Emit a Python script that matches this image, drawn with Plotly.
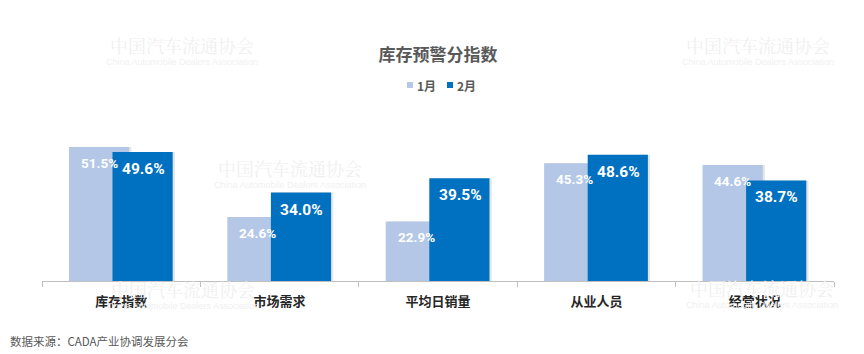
import plotly.graph_objects as go

categories = ["库存指数", "市场需求", "平均日销量", "从业人员", "经营状况"]
jan_values = [51.5, 24.6, 22.9, 45.3, 44.6]
feb_values = [49.6, 34.0, 39.5, 48.6, 38.7]
series_names = ["1月", "2月"]
title_text = "库存预警分指数"
source_text = "数据来源：CADA产业协调发展分会"

W, H = 864, 354
L, R, T, B = 42, 834, 125, 281
C_LIGHT = "#B4C7E7"
C_DARK = "#0070C0"
GREY = "#595959"
NARROW = "Liberation Sans Narrow, Arial Narrow, Roboto, Arial, sans-serif"
CJK = "Noto Sans CJK SC, Microsoft YaHei, sans-serif"


def px_x(p):
    return (p - L) / (R - L)


def px_y(p):
    return (B - p) / (B - T)


BAR_W = 0.38
SH = 0.014  # shadow shift
fig = go.Figure()
# soft shadows
for vals, off in [(jan_values, -0.33), (feb_values, -0.055)]:
    fig.add_trace(go.Bar(x=categories, y=vals, marker=dict(color="rgba(0,0,0,0.10)", line=dict(width=0)),
                         width=BAR_W, offset=off + SH, showlegend=False, hoverinfo="skip"))
fig.add_trace(go.Bar(x=categories, y=jan_values, name=series_names[0],
                     marker=dict(color=C_LIGHT, line=dict(width=0)),
                     width=BAR_W, offset=-0.33, showlegend=False))
fig.add_trace(go.Bar(x=categories, y=feb_values, name=series_names[1],
                     marker=dict(color=C_DARK, line=dict(width=0)),
                     width=BAR_W, offset=-0.055, showlegend=False))

annotations = []
# watermarks (decorative)
wm_cn = "中国汽车流通协会"
wm_en = "China Automobile Dealers Association"
for cx, cy in [(182, 45), (758, 45), (290, 168), (183, 289), (762, 288)]:
    annotations.append(dict(x=px_x(cx), y=px_y(cy), xref="paper", yref="paper",
                            text=wm_cn, showarrow=False, xanchor="center", yanchor="middle",
                            font=dict(family="Noto Serif CJK SC, Noto Sans CJK SC, serif", size=18, color="#F0F0F0")))
    annotations.append(dict(x=px_x(cx), y=px_y(cy + 17), xref="paper", yref="paper",
                            text=wm_en, showarrow=False, xanchor="center", yanchor="middle",
                            font=dict(family="Arial, Liberation Sans, sans-serif", size=9, color="#F0F0F0")))

# value labels
for c, v in zip(categories, jan_values):
    annotations.append(dict(x=c, y=v, xref="x", yref="y", text=f"{v:.1f}%",
                            showarrow=False, xshift=-22, yshift=-16,
                            xanchor="center", yanchor="middle",
                            font=dict(family=NARROW, size=13.5, color="white", weight="bold")))
for c, v in zip(categories, feb_values):
    annotations.append(dict(x=c, y=v, xref="x", yref="y", text=f"{v:.1f}%",
                            showarrow=False, xshift=22, yshift=-17,
                            xanchor="center", yanchor="middle",
                            font=dict(family=NARROW, size=15.5, color="white", weight="bold")))

# manual legend
shapes = []
legend_items = [(407, C_LIGHT, series_names[0]), (447, C_DARK, series_names[1])]
for x0, col, name in legend_items:
    shapes.append(dict(type="rect", xref="paper", yref="paper",
                       x0=px_x(x0), x1=px_x(x0 + 6), y0=px_y(88), y1=px_y(82),
                       fillcolor=col, line=dict(width=0)))
    annotations.append(dict(x=px_x(x0 + 8), y=px_y(85), xref="paper", yref="paper",
                            text=name, showarrow=False, xanchor="left", yanchor="middle",
                            font=dict(family=CJK, size=12, color=GREY, weight="bold")))

# source
annotations.append(dict(x=px_x(8), y=px_y(341), xref="paper", yref="paper",
                        text=source_text, showarrow=False, xanchor="left", yanchor="middle",
                        font=dict(family=CJK, size=11.5, color=GREY)))

fig.update_layout(
    width=W, height=H,
    margin=dict(l=L, r=W - R, t=T, b=H - B, pad=0),
    paper_bgcolor="white", plot_bgcolor="white",
    barmode="overlay",
    title=dict(text=title_text, x=438 / W, xanchor="center", y=1 - 55 / H, yanchor="middle",
               xref="container", yref="container",
               font=dict(family=CJK, size=17, color=GREY, weight="bold")),
    xaxis=dict(type="category", showline=True, linecolor="#BFBFBF", linewidth=1,
               ticks="outside", tickson="boundaries", ticklen=5, tickcolor="#BFBFBF",
               ticklabelstandoff=8,
               tickfont=dict(family=CJK, size=13, color="#262626", weight="bold"),
               showgrid=False, zeroline=False, range=[-0.5, 4.5]),
    yaxis=dict(range=[0, 60], visible=False, showgrid=False, zeroline=False),
    annotations=annotations,
    shapes=shapes,
    showlegend=False,
)

fig.write_html("out.html")
